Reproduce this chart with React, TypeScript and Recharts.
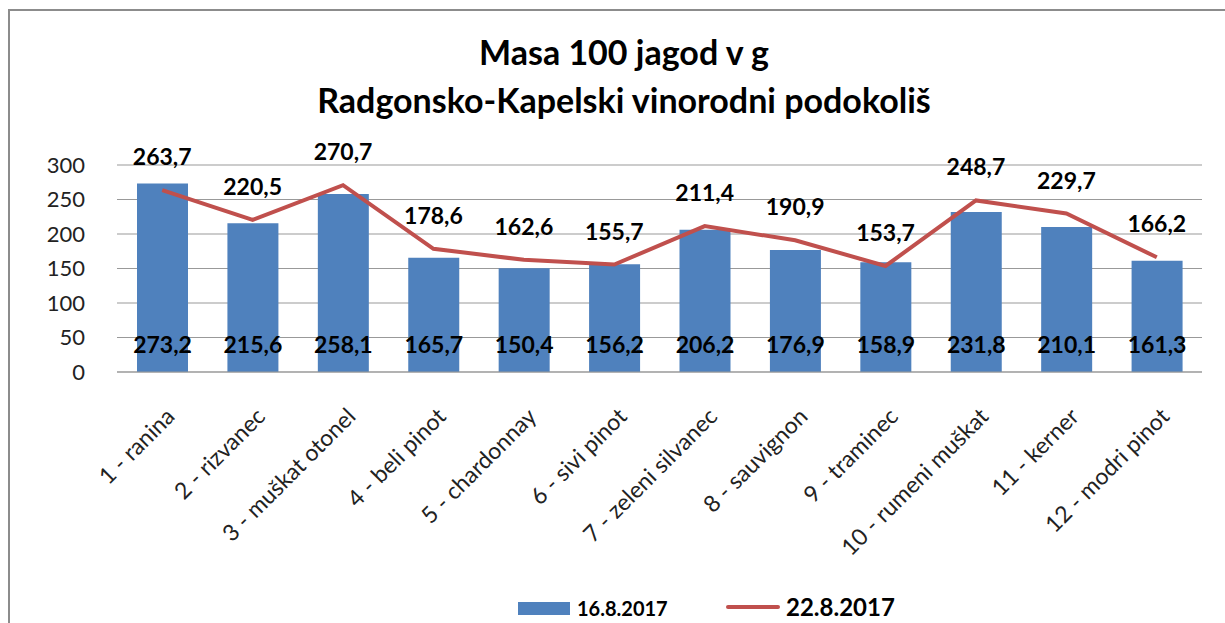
import React from "react";
import { ComposedChart, Bar, Line, XAxis, YAxis, CartesianGrid, LabelList } from "recharts";

const categories = [
  "1 - ranina",
  "2 - rizvanec",
  "3 - muškat otonel",
  "4 - beli pinot",
  "5 - chardonnay",
  "6 - sivi pinot",
  "7 - zeleni silvanec",
  "8 - sauvignon",
  "9 - traminec",
  "10 - rumeni muškat",
  "11 - kerner",
  "12 - modri pinot",
];
const series1608 = [273.2, 215.6, 258.1, 165.7, 150.4, 156.2, 206.2, 176.9, 158.9, 231.8, 210.1, 161.3];
const series2208 = [263.7, 220.5, 270.7, 178.6, 162.6, 155.7, 211.4, 190.9, 153.7, 248.7, 229.7, 166.2];
const yTicks = [0, 50, 100, 150, 200, 250, 300];

const data = categories.map((name, i) => ({ name, a: series1608[i], b: series2208[i] }));

const FONT = "Lato, 'Open Sans', sans-serif";
const fmt = (v: number) => v.toFixed(1).replace(".", ",");

const XTick = (props: any) => {
  const { x, y, payload } = props;
  const ax = x + 14;
  const ay = y + 38;
  return (
    <text
      x={ax}
      y={ay}
      textAnchor="end"
      transform={`rotate(-45 ${ax} ${ay})`}
      fontFamily={FONT}
      fontSize={23}
      fill="#222"
    >
      {payload.value}
    </text>
  );
};

const BarLabel = (props: any) => {
  const { x, y, width, height, value } = props;
  return (
    <text
      x={x + width / 2}
      y={y + height - 19}
      textAnchor="middle"
      fontFamily={FONT}
      fontWeight={700}
      fontSize={23}
      fill="#000"
    >
      {fmt(value)}
    </text>
  );
};

const LineLabel = (props: any) => {
  const { x, y, value } = props;
  return (
    <text x={x} y={y - 25} textAnchor="middle" fontFamily={FONT} fontWeight={700} fontSize={23} fill="#000">
      {fmt(value)}
    </text>
  );
};

export default function App() {
  return (
    <div style={{ position: "absolute", left: 0, top: 0, width: 1225, height: 623, background: "#fff", overflow: "hidden" }}>
      <div
        style={{
          position: "absolute",
          left: 8,
          top: 9,
          width: 1300,
          height: 700,
          borderLeft: "2px solid #8c8c8c",
          borderTop: "2px solid #8c8c8c",
        }}
      />
      <div
        style={{
          position: "absolute",
          left: 0,
          top: 28,
          width: 1248,
          textAlign: "center",
          fontFamily: FONT,
          fontWeight: 700,
          fontSize: 34,
          lineHeight: "48px",
          color: "#000",
        }}
      >
        <div>Masa 100 jagod v g</div>
        <div>Radgonsko-Kapelski vinorodni podokoliš</div>
      </div>
      <div style={{ position: "absolute", left: 0, top: 0 }}>
        <ComposedChart width={1225} height={623} data={data} margin={{ top: 165, right: 23, bottom: 91, left: 57 }}>
          <CartesianGrid vertical={false} stroke="#999" />
          <XAxis dataKey="name" interval={0} tick={<XTick />} tickLine={false} axisLine={{ stroke: "#999" }} height={160} />
          <YAxis
            domain={[0, 300]}
            ticks={yTicks}
            width={60}
            tickLine={false}
            axisLine={false}
            tick={{ fontFamily: FONT, fontSize: 22, fill: "#222" }}
            tickMargin={26}
          />
          <Bar dataKey="a" fill="#4f81bd" barSize={51} isAnimationActive={false}>
            <LabelList dataKey="a" content={<BarLabel />} />
          </Bar>
          <Line dataKey="b" stroke="#c0504d" strokeWidth={4} dot={false} isAnimationActive={false}>
            <LabelList dataKey="b" content={<LineLabel />} />
          </Line>
        </ComposedChart>
      </div>
      <div
        style={{
          position: "absolute",
          top: 594,
          left: 0,
          width: 1225,
          height: 28,
          fontFamily: FONT,
          fontWeight: 700,
          color: "#000",
        }}
      >
        <div style={{ position: "absolute", left: 518, top: 8, width: 52, height: 13, background: "#4f81bd" }} />
        <div style={{ position: "absolute", left: 577, top: 2, fontSize: 20, lineHeight: "24px" }}>16.8.2017</div>
        <div style={{ position: "absolute", left: 726, top: 11, width: 54, height: 4, borderRadius: 2, background: "#c0504d" }} />
        <div style={{ position: "absolute", left: 786, top: -1, fontSize: 24, lineHeight: "28px" }}>22.8.2017</div>
      </div>
    </div>
  );
}
